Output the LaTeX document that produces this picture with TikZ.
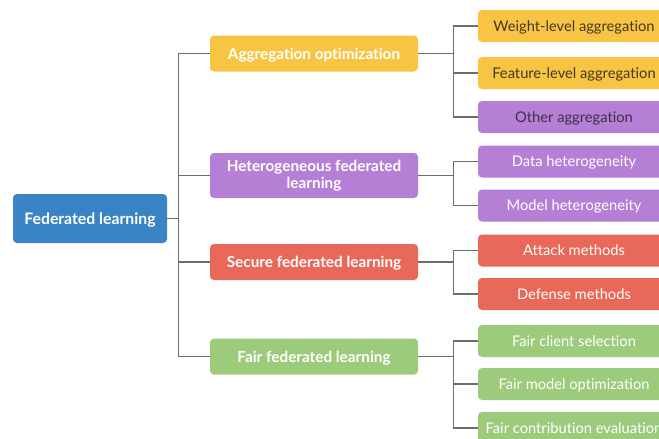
\documentclass[tikz,border=0pt]{standalone}
\usepackage{fontspec}
\setmainfont{Lato}[Ligatures=NoCommon]
\definecolor{cblue}{HTML}{3A84C6}
\definecolor{cyellow}{HTML}{F7C443}
\definecolor{cpurple}{HTML}{B57FD6}
\definecolor{cred}{HTML}{E8685A}
\definecolor{cgreen}{HTML}{9DCB7C}
\definecolor{cline}{HTML}{6E6E6E}
\definecolor{darkbrown}{HTML}{45391F}
\definecolor{darkplum}{HTML}{3F2F4C}
\tikzset{
  base/.style={rounded corners=4pt, inner sep=2pt, align=center, anchor=center},
  rootbox/.style={base, fill=cblue, text=white, minimum width=154pt, minimum height=49pt,
    font=\fontsize{15.8}{18}\selectfont\bfseries, text height=11.4pt, text depth=0pt},
  topicbox/.style={base, text=white, minimum width=208pt, minimum height=36pt,
    font=\fontsize{15.3}{17}\selectfont\bfseries},
  oneline/.style={text height=11pt, text depth=0pt},
  leafbox/.style={base, text=white, minimum width=192pt, minimum height=32pt,
    font=\fontsize{14.7}{16}\selectfont, text height=10.6pt, text depth=0pt},
  link/.style={draw=cline, line width=1.1pt}
}
\begin{document}
\begin{tikzpicture}[x=1pt, y=-1pt]
\useasboundingbox[fill=white] (0,0) rectangle (659,439);

% root
\node[rootbox] (root) at (90,218.5) {Federated learning};

% main research directions
\node[topicbox, oneline, fill=cyellow] (agg) at (314,53.5) {Aggregation optimization};
\node[topicbox, fill=cpurple, minimum height=45pt] (het) at (314,175.5) {Heterogeneous federated\\learning};
\node[topicbox, oneline, fill=cred] (sec) at (314,262) {Secure federated learning};
\node[topicbox, oneline, fill=cgreen] (fair) at (314,356.5) {Fair federated learning};

% sub-topics
\node[leafbox, fill=cyellow, text=darkbrown] (wl) at (574,26) {Weight-level aggregation};
\node[leafbox, fill=cyellow, text=darkbrown] (fl) at (574,73) {Feature-level aggregation};
\node[leafbox, fill=cpurple, text=darkplum] (oa) at (574,117) {Other aggregation};
\node[leafbox, fill=cpurple] (dh) at (574,161.5) {Data heterogeneity};
\node[leafbox, fill=cpurple] (mh) at (574,205.5) {Model heterogeneity};
\node[leafbox, fill=cred] (am) at (574,250.5) {Attack methods};
\node[leafbox, fill=cred] (dm) at (574,294) {Defense methods};
\node[leafbox, fill=cgreen] (cs) at (574,341) {Fair client selection};
\node[leafbox, fill=cgreen] (mo) at (574,384) {Fair model optimization};
\node[leafbox, fill=cgreen] (ce) at (574,428) {Fair contribution evaluation};

% tree connectors: root to directions
\foreach \t in {agg,het,sec,fair}
  \draw[link] (root.east) -- ++(11,0) |- (\t.west);

% directions to sub-topics
\foreach \t in {wl,fl,oa}
  \draw[link] (agg.east) -- ++(35,0) |- (\t.west);
\foreach \t in {dh,mh}
  \draw[link] (het.east) -- ++(35,0) |- (\t.west);
\foreach \t in {am,dm}
  \draw[link] (sec.east) -- ++(35,0) |- (\t.west);
\foreach \t in {cs,mo,ce}
  \draw[link] (fair.east) -- ++(35,0) |- (\t.west);
\end{tikzpicture}
\end{document}
